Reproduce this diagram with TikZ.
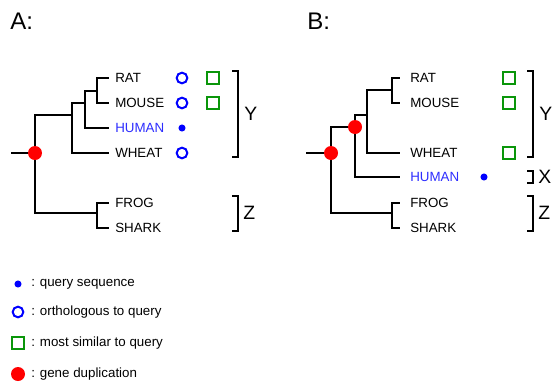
\documentclass[tikz,border=0pt]{standalone}
\usepackage{fontspec}
\setmainfont{Liberation Sans}
\usetikzlibrary{positioning}
\definecolor{qblue}{RGB}{0,0,255}
\definecolor{hblue}{RGB}{45,45,255}
\definecolor{simgreen}{RGB}{10,150,10}
\definecolor{dupred}{RGB}{255,0,0}

\begin{document}
\begin{tikzpicture}[x=0.75pt,y=-0.75pt,
    branch/.style={line width=1.5pt},
    bracket/.style={line width=1.1pt},
    lbl/.style={inner sep=0pt,font=\fontsize{10}{12}\selectfont},
    big/.style={inner sep=0pt,font=\fontsize{18}{20}\selectfont},
    grp/.style={inner sep=0pt,font=\fontsize{14.5}{16}\selectfont},
    orth/.style={circle,draw=qblue,line width=1.5pt,minimum size=8pt,inner sep=0pt},
    sim/.style={rectangle,draw=simgreen,line width=1.5pt,minimum size=9pt,inner sep=0pt},
    query/.style={circle,fill=qblue,minimum size=5.3pt,inner sep=0pt},
    dup/.style={circle,fill=dupred,minimum size=10.5pt,inner sep=0pt}]
\useasboundingbox (0,0) rectangle (552,386);

% panel A
\node[big,anchor=west] (titleA) at (10,21) {A:};

% draw leaves
\foreach \n/\y/\t in {ratA/78/RAT,mouseA/103/MOUSE,wheatA/153/WHEAT,frogA/203/FROG,sharkA/228/SHARK}
  {
    \coordinate (\n) at (109,\y);
    \node[lbl,right=4.5pt of \n] (\n txt) {\t};
  }
\coordinate (humanA) at (109,128);
\node[lbl,text=hblue,right=4.5pt of humanA] (humanAtxt) {HUMAN};

% draw inner nodes
\coordinate (stubA) at (11,153);
\coordinate (rootA) at (35,153);
\coordinate (nA1) at (72,115);
\coordinate (nA2) at (85,103);
\coordinate (nA3) at (97,91);
\coordinate (nA4) at (97,213);

\draw[branch] (stubA) -- (rootA);
\draw[branch] (rootA) |- (nA1);
\draw[branch] (rootA) |- (nA4);
\draw[branch] (nA1) |- (nA2);
\draw[branch] (nA1) |- (wheatA);
\draw[branch] (nA2) |- (nA3);
\draw[branch] (nA2) |- (humanA);
\draw[branch] (nA3) |- (ratA);
\draw[branch] (nA3) |- (mouseA);
\draw[branch] (nA4) |- (frogA);
\draw[branch] (nA4) |- (sharkA);
\node[dup] (dupA) at (rootA) {};

% draw markers
\foreach \y [count=\i] in {78,103,153}
  \node[orth] (orthA\i) at (182,\y) {};
\node[query] (queryA) at (182,128) {};
\foreach \y [count=\i] in {78,103}
  \node[sim] (simA\i) at (213,\y) {};

% draw groups
\draw[bracket] (232,71) -| (238,157) -- (232,157);
\node[grp,anchor=west] (grpYA) at (244,114) {Y};
\draw[bracket] (232,196) -| (238,231) -- (232,231);
\node[grp,anchor=west] (grpZA) at (243,213) {Z};

% panel B
\node[big,anchor=west] (titleB) at (307,21) {B:};

% draw leaves
\foreach \n/\y/\t in {ratB/78/RAT,mouseB/103/MOUSE,wheatB/153/WHEAT,frogB/203/FROG,sharkB/228/SHARK}
  {
    \coordinate (\n) at (400,\y);
    \node[lbl,right=7.5pt of \n] (\n txt) {\t};
  }
\coordinate (humanB) at (400,177);
\node[lbl,text=hblue,right=7.5pt of humanB] (humanBtxt) {HUMAN};

% draw inner nodes
\coordinate (stubB) at (306,153);
\coordinate (rootB) at (331,153);
\coordinate (nB1) at (355,127);
\coordinate (nB2) at (367,115);
\coordinate (nB3) at (392,90);
\coordinate (nB4) at (392,213);

\draw[branch] (stubB) -- (rootB);
\draw[branch] (rootB) |- (nB1);
\draw[branch] (rootB) |- (nB4);
\draw[branch] (nB1) |- (nB2);
\draw[branch] (nB1) |- (humanB);
\draw[branch] (nB2) |- (nB3);
\draw[branch] (nB2) |- (wheatB);
\draw[branch] (nB3) |- (ratB);
\draw[branch] (nB3) |- (mouseB);
\draw[branch] (nB4) |- (frogB);
\draw[branch] (nB4) |- (sharkB);
\node[dup] (dupB1) at (rootB) {};
\node[dup] (dupB2) at (nB1) {};

% draw markers
\node[query] (queryB) at (484,177) {};
\foreach \y [count=\i] in {78,103,153}
  \node[sim] (simB\i) at (509,\y) {};

% draw groups
\draw[bracket] (527,71) -| (533,157) -- (527,157);
\node[grp,anchor=west] (grpYB) at (539,114) {Y};
\draw[bracket] (527,171) -| (533,183) -- (527,183);
\node[grp,anchor=west] (grpXB) at (538,177) {X};
\draw[bracket] (527,196) -| (533,231) -- (527,231);
\node[grp,anchor=west] (grpZB) at (538,213) {Z};

% legend
\node[query] (keyQuery) at (18,284) {};
\node[orth] (keyOrth) at (18,312) {};
\node[sim] (keySim) at (18,343) {};
\node[dup] (keyDup) at (18,374) {};
\node[lbl,anchor=west] (keyQuerytxt) at (31,284) {: query sequence};
\node[lbl,anchor=west] (keyOrthtxt) at (31,312) {: orthologous to query};
\node[lbl,anchor=west] (keySimtxt) at (31,343) {: most similar to query};
\node[lbl,anchor=west] (keyDuptxt) at (31,374) {: gene duplication};
\end{tikzpicture}
\end{document}
